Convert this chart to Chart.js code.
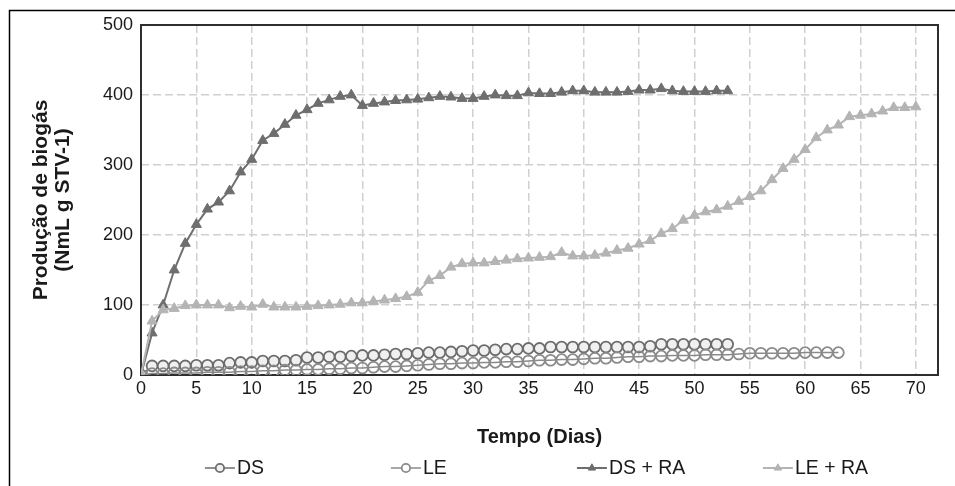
<!DOCTYPE html>
<html>
<head>
<meta charset="utf-8">
<script src="https://cdn.jsdelivr.net/npm/chart.js@4.4.1/dist/chart.umd.min.js"></script>
<style>
  html, body { margin: 0; padding: 0; background: #ffffff; }
  #wrap { width: 955px; height: 486px; }
</style>
</head>
<body>
<div id="wrap"><canvas id="biogas" width="955" height="486"></canvas></div>
<script>
// Cumulative biogas production (NmL g STV-1) per day of digestion
const seriesNames = ['DS', 'LE', 'DS + RA', 'LE + RA'];

const dsDays = Array.from({length: 54}, (_, i) => i);      // 0..53
const leDays = Array.from({length: 64}, (_, i) => i);      // 0..63
const dsRaDays = Array.from({length: 54}, (_, i) => i);    // 0..53
const leRaDays = Array.from({length: 71}, (_, i) => i);    // 0..70

const dsValues = [
  0, 13, 13, 13, 13, 14, 14, 14, 17, 18,
  18, 20, 20, 20, 21, 25, 25, 26, 26, 27,
  28, 28, 29, 30, 30, 31, 32, 32, 33, 34,
  35, 35, 36, 37, 37, 38, 38, 40, 40, 40,
  40, 40, 40, 40, 40, 40, 41, 44, 44, 44,
  44, 44, 44, 44
];

const leValues = [
  0, 2, 2, 3, 3, 3, 4, 4, 4, 5,
  5, 6, 6, 7, 7, 8, 8, 9, 9, 10,
  10, 11, 12, 12, 13, 14, 15, 16, 16, 17,
  17, 18, 18, 19, 19, 20, 21, 21, 22, 22,
  23, 24, 24, 25, 26, 26, 27, 27, 28, 28,
  28, 29, 29, 29, 30, 31, 31, 31, 31, 31,
  32, 32, 32, 32
];

const dsRaValues = [
  0, 60, 100, 150, 188, 215, 237, 247, 263, 290,
  308, 335, 345, 358, 371, 379, 388, 393, 398, 400,
  385, 388, 390, 392, 393, 394, 396, 398, 397, 395,
  395, 398, 400, 399, 399, 403, 402, 402, 404, 406,
  406, 404, 404, 404, 405, 407, 407, 409, 406, 405,
  405, 405, 406, 406
];

const leRaValues = [
  0, 77, 93, 95, 99, 100, 100, 100, 96, 98,
  97, 101, 97, 97, 97, 98, 99, 100, 101, 103,
  103, 105, 107, 109, 112, 118, 135, 142, 154, 159,
  160, 160, 162, 164, 166, 167, 168, 169, 175, 170,
  170, 171, 174, 178, 181, 187, 192, 202, 209, 221,
  228, 233, 236, 241, 248, 255, 263, 279, 295, 308,
  322, 339, 350, 357, 369, 371, 373, 377, 382, 382,
  383
];

const yTicks = [0, 100, 200, 300, 400, 500];
const xTicks = [0, 5, 10, 15, 20, 25, 30, 35, 40, 45, 50, 55, 60, 65, 70];

const FONT = "'Liberation Sans', Arial, sans-serif";
const TEXT = '#1a1a1a';

const toPoints = (days, vals) => days.map((d, i) => ({x: d, y: vals[i]}));

// White page, outer frame and plot box
const framePlugin = {
  id: 'frame',
  beforeDraw(chart) {
    const {ctx, width, height} = chart;
    ctx.save();
    ctx.fillStyle = '#ffffff';
    ctx.fillRect(0, 0, width, height);
    ctx.restore();
  },
  beforeDatasetsDraw(chart) {
    const {ctx, chartArea: a} = chart;
    ctx.save();
    ctx.strokeStyle = '#2e2e2e';
    ctx.lineWidth = 2;
    ctx.strokeRect(a.left, a.top, a.right - a.left, a.bottom - a.top);
    ctx.restore();
  },
  afterDraw(chart) {
    const {ctx} = chart;
    ctx.save();
    ctx.strokeStyle = '#000000';
    ctx.lineWidth = 1.5;
    ctx.strokeRect(9.5, 10.5, 1200, 1200);
    ctx.restore();
  }
};

// Legend row: equal-width slots, line + marker sample, centred under the plot
const slotLegend = {
  id: 'slotLegend',
  afterDraw(chart, args, opts) {
    const {ctx, chartArea: a} = chart;
    const sets = chart.data.datasets;
    ctx.save();
    ctx.font = opts.font;
    const widths = sets.map(d => opts.symbolWidth + opts.gap + ctx.measureText(d.label).width);
    const total = opts.slotWidth * (sets.length - 1) + widths[widths.length - 1];
    const x0 = (a.left + a.right) / 2 - total / 2 - opts.shift;
    const y = opts.y;
    sets.forEach((d, i) => {
      const sx = x0 + i * opts.slotWidth;
      ctx.strokeStyle = d.borderColor;
      ctx.lineWidth = d.borderWidth;
      ctx.beginPath();
      ctx.moveTo(sx, y);
      ctx.lineTo(sx + opts.symbolWidth, y);
      ctx.stroke();
      ctx.fillStyle = d.legendFill || d.pointBackgroundColor;
      ctx.strokeStyle = d.pointBorderColor;
      ctx.lineWidth = d.pointBorderWidth;
      Chart.helpers.drawPoint(ctx, {
        pointStyle: d.pointStyle,
        radius: opts.markerRadius,
        borderWidth: d.pointBorderWidth,
        rotation: 0
      }, sx + opts.symbolWidth / 2, y);
      ctx.fillStyle = TEXT;
      ctx.textAlign = 'left';
      ctx.textBaseline = 'middle';
      ctx.fillText(d.label, sx + opts.symbolWidth + opts.gap, y + 1);
    });
    ctx.restore();
  }
};

const gridStyle = {
  color: '#d0d0d0',
  lineWidth: 1.5,
  drawTicks: false
};

new Chart(document.getElementById('biogas'), {
  type: 'line',
  data: {
    datasets: [
      {
        label: seriesNames[0],
        data: toPoints(dsDays, dsValues),
        borderColor: '#6c6c6c',
        borderWidth: 1.5,
        pointStyle: 'circle',
        pointRadius: 5.4,
        pointBorderWidth: 1.8,
        pointBorderColor: '#6c6c6c',
        pointBackgroundColor: '#f0f0f0',
        order: 4
      },
      {
        label: seriesNames[1],
        data: toPoints(leDays, leValues),
        borderColor: '#8a8a8a',
        borderWidth: 1.5,
        pointStyle: 'circle',
        pointRadius: 5.4,
        pointBorderWidth: 1.8,
        pointBorderColor: '#8a8a8a',
        pointBackgroundColor: 'rgba(255,255,255,0)',
        legendFill: '#ffffff',
        order: 3
      },
      {
        label: seriesNames[2],
        data: toPoints(dsRaDays, dsRaValues),
        borderColor: '#6e6e6e',
        borderWidth: 2,
        pointStyle: 'triangle',
        pointRadius: 5.8,
        pointBorderWidth: 1,
        pointBorderColor: '#6e6e6e',
        pointBackgroundColor: '#6e6e6e',
        order: 2
      },
      {
        label: seriesNames[3],
        data: toPoints(leRaDays, leRaValues),
        borderColor: '#b4b4b4',
        borderWidth: 2,
        pointStyle: 'triangle',
        pointRadius: 5.8,
        pointBorderWidth: 1,
        pointBorderColor: '#b4b4b4',
        pointBackgroundColor: '#b4b4b4',
        order: 1
      }
    ]
  },
  options: {
    responsive: false,
    animation: false,
    devicePixelRatio: 1,
    layout: { padding: { left: 0, top: 25, right: 17, bottom: 36 } },
    elements: { line: { tension: 0 } },
    plugins: {
      legend: { display: false },
      tooltip: { enabled: false },
      slotLegend: {
        font: '19.5px ' + FONT,
        y: 468,
        slotWidth: 186,
        symbolWidth: 30,
        gap: 2,
        markerRadius: 4.2,
        shift: 3
      }
    },
    scales: {
      x: {
        type: 'linear',
        min: 0,
        max: 72,
        afterBuildTicks: s => { s.ticks = xTicks.map(v => ({value: v})); },
        afterFit: s => { s.height = 75; },
        ticks: {
          stepSize: 5,
          padding: 3,
          color: TEXT,
          font: { family: FONT, size: 18 }
        },
        grid: gridStyle,
        border: { display: false, dash: [8, 4] },
        title: {
          display: true,
          text: 'Tempo (Dias)',
          color: TEXT,
          font: { family: FONT, size: 20, weight: 'bold' },
          padding: { top: 0, bottom: 1 }
        }
      },
      y: {
        min: 0,
        max: 500,
        afterBuildTicks: s => { s.ticks = yTicks.map(v => ({value: v})); },
        afterFit: s => { s.width = 141; },
        ticks: {
          stepSize: 100,
          padding: 8,
          color: TEXT,
          font: { family: FONT, size: 18 }
        },
        grid: gridStyle,
        border: { display: false, dash: [8, 4] },
        title: {
          display: true,
          text: ['Produção de biogás', '(NmL g STV-1)'],
          color: TEXT,
          font: { family: FONT, size: 21, weight: 'bold', lineHeight: 1.05 },
          padding: { top: 30, bottom: 0 }
        }
      }
    }
  },
  plugins: [framePlugin, slotLegend]
});
</script>
</body>
</html>
